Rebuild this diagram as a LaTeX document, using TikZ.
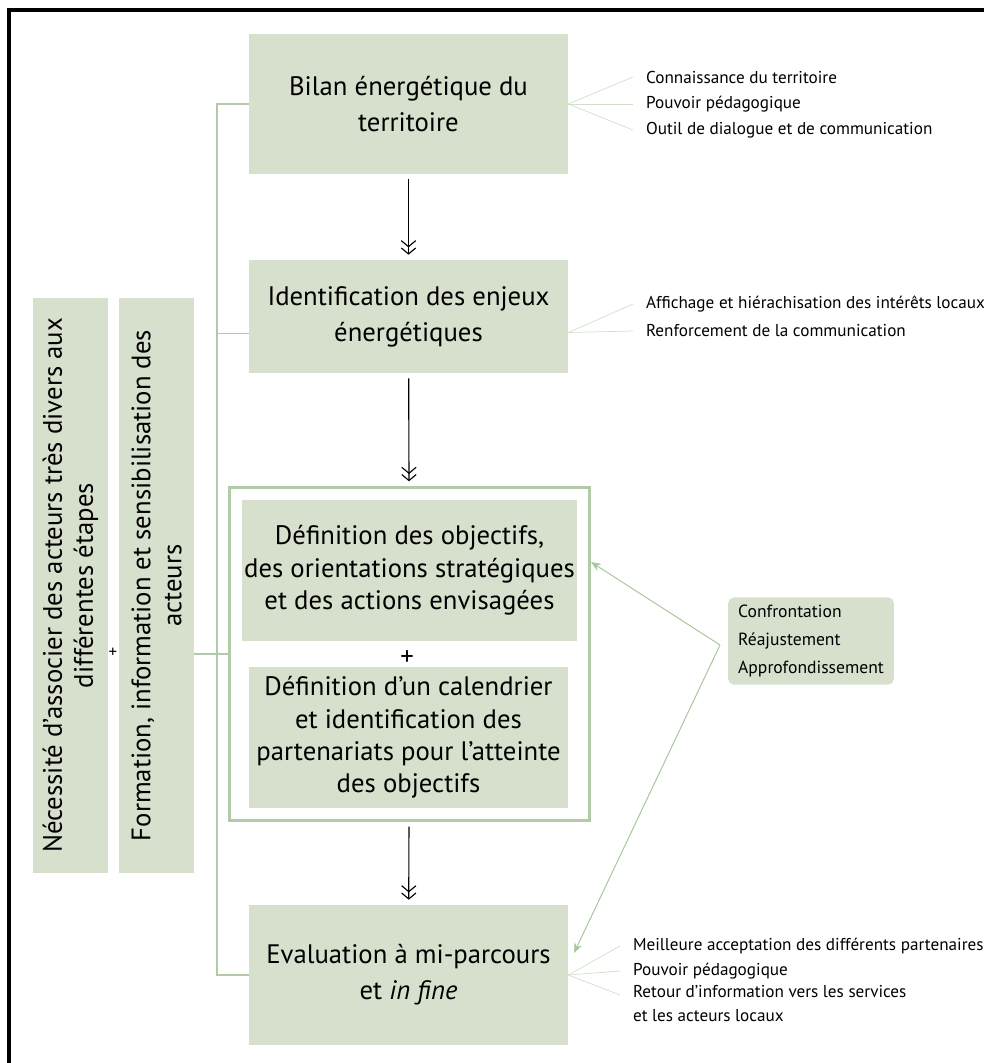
\documentclass[tikz,border=0pt]{standalone}
\usepackage{fontspec}
\setmainfont{PT Sans}
\usetikzlibrary{positioning, arrows.meta, fit, calc}
\definecolor{sage}{RGB}{214,224,205}
\definecolor{sagedark}{RGB}{178,202,168}
\definecolor{sagelight}{RGB}{208,224,200}
\definecolor{sagearrow}{RGB}{168,199,158}

\begin{document}
\begin{tikzpicture}[
      x=0.025cm, y=-0.025cm,
      >={Straight Barb[length=1.5mm, width=3.6mm]},
      etape/.style={rectangle, fill=sage, minimum width=7.975cm, inner xsep=0.05cm, align=center, font=\fontsize{19}{25.6}\selectfont},
      serre/.style={font=\fontsize{19}{23}\selectfont},
      acteur/.style={rectangle, fill=sage, rotate=90, minimum width=14.375cm, minimum height=1.875cm, inner sep=0.05cm, align=center, font=\fontsize{19}{22}\selectfont},
      note/.style={anchor=west, inner xsep=0.32cm, inner ysep=0pt, align=left, font=\fontsize{12.2}{19}\selectfont},
      flow/.style={->>, line width=0.8pt, shorten <=0.125cm, shorten >=0.125cm},
      branch/.style={draw=sagedark, line width=1.4pt},
      fan/.style={draw=sagelight, line width=0.5pt},
      feedback/.style={-{Stealth[length=2.5mm, width=2mm]}, draw=sagearrow, line width=0.7pt}
  ]
  \useasboundingbox (0,0) rectangle (984,1063);

  % page frame
  \draw[line width=2.2pt] (984,10) -- (9,10) -- (9,1063);

  % Steps
  \node[etape, minimum height=3.5cm] (bilan) at (408.5,104) {Bilan énergétique du\\territoire};
  \node[etape, minimum height=2.825cm] (enjeux) at (408.5,316.5) {Identification des enjeux\\énergétiques};
  \node[etape, serre, minimum height=3.525cm] (objectifs) at (409.5,570.5) {Définition des objectifs,\\des orientations stratégiques\\et des actions envisagées};
  \node[font=\fontsize{19}{20}\selectfont] (plus) at (407,658) {+};
  \node[etape, serre, minimum height=3.525cm] (calendrier) at (408.5,737.5) {Définition d'un calendrier\\et identification des\\partenariats pour l'atteinte\\des objectifs};
  \node[draw=sagedark, line width=2pt, inner sep=0.3cm, fit=(objectifs)(calendrier)] (cadre) {};
  \node[etape, minimum height=3.5cm] (evaluation) at (408.5,975) {Evaluation à mi-parcours\\et \textit{in fine}};

  % Actors
  \node[acteur] (necessite) at (70.5,585.5) {Nécessité d'associer des acteurs très divers aux\\différentes étapes};
  \node[acteur] (formation) at (156.5,585.5) {Formation, information et sensibilisation des\\acteurs};
  \node[font=\fontsize{12}{12}\selectfont] (plusbis) at (113,653) {+};

  % Flow
  \draw[flow] (bilan) -- (enjeux);
  \draw[flow] (enjeux) -- (cadre);
  \draw[flow] (cadre) -- (evaluation);

  % Spine
  \coordinate (spine) at (217,0);
  \draw[branch] (bilan.west) -- (bilan.west -| spine) -- (evaluation.west -| spine) -- (evaluation.west);
  \draw[branch] ($(enjeux.west -| spine)+(0,17)$) -- ($(enjeux.west)+(0,17)$);
  \draw[branch] (formation.south |- cadre.west) -- (cadre.west);

  % Notes
  \node[note] (n11) at (633,77) {Connaissance du territoire};
  \node[note] (n12) at (633,104) {Pouvoir pédagogique};
  \node[note] (n13) at (633,130) {Outil de dialogue et de communication};
  \node[note] (n21) at (633,304) {Affichage et hiérachisation des intérêts locaux};
  \node[note] (n22) at (633,331) {Renforcement de la communication};
  \node[note] (n31) at (620,946) {Meilleure acceptation des différents partenaires};
  \node[note] (n32) at (620,971) {Pouvoir pédagogique};
  \node[note, anchor=north west, font=\fontsize{12.2}{17.4}\selectfont] (n33) at (620,985) {Retour d'information vers les services\\et les acteurs locaux};

  \foreach \n in {n11,n12,n13}
    \draw[fan] (bilan.east) -- (\n.west);
  \foreach \n in {n21,n22}
    \draw[fan] ($(enjeux.east)+(0,16)$) -- (\n.west);
  \foreach \n in {n31,n32}
    \draw[fan] (evaluation.east) -- (\n.west);
  \draw[fan] (evaluation.east) -- ($(n33.north west)+(0,10)$);

  % Feedback
  \node[rectangle, rounded corners=4pt, fill=sage, align=left, inner xsep=0.25cm, inner ysep=0.2cm, font=\fontsize{12.5}{19.6}\selectfont] (retour) at (811,641) {Confrontation\\Réajustement\\Approfondissement};
  \coordinate (pivot) at (720,645);
  \coordinate (tipobj) at (591,562);
  \coordinate (tipeval) at (574,953);
  \draw[feedback] (pivot) -- (tipobj);
  \draw[feedback] (pivot) -- (tipeval);

\end{tikzpicture}
\end{document}
